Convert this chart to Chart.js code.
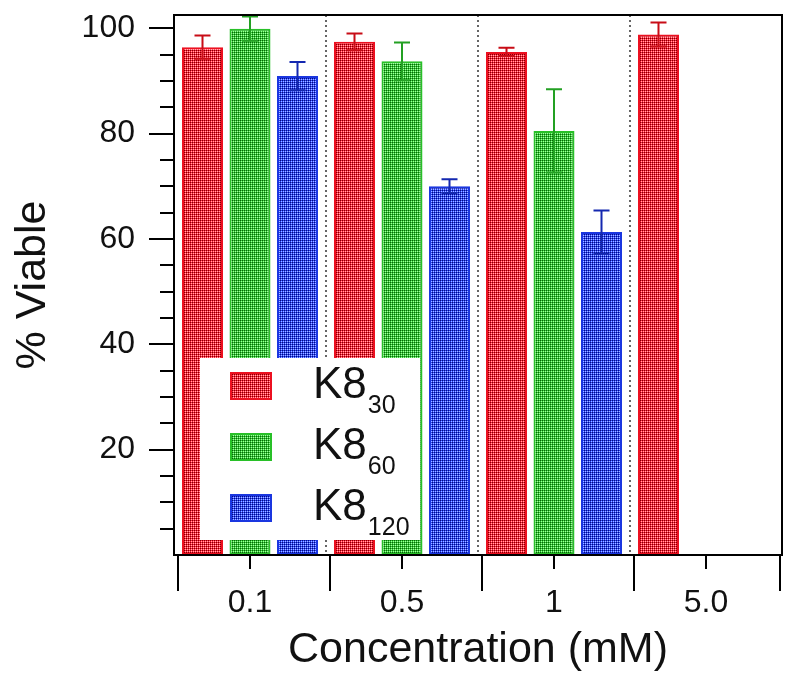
<!DOCTYPE html>
<html>
<head>
<meta charset="utf-8">
<title>% Viable vs concentration</title>
<script src="https://cdn.jsdelivr.net/npm/chart.js@4.4.1/dist/chart.umd.min.js"></script>
<style>
  html, body { margin: 0; padding: 0; background: #fff; }
  #wrap { width: 798px; height: 688px; position: relative; }
</style>
</head>
<body>
<div id="wrap"><canvas id="viabilityChart"></canvas></div>
<script>
// data
const concentrations = ['0.1', '0.5', '1', '5.0'];
const seriesNames = ['K8', 'K8', 'K8'];
const seriesSubs = ['30', '60', '120'];

const k8_30 = [96.4, 97.4, 95.5, 98.8];
const k8_30Err = [2.2, 1.6, 0.8, 2.3];
const k8_60 = [99.9, 93.7, 80.5, null];
const k8_60Err = [2.3, 3.6, 7.9, null];
const k8_120 = [90.9, 70.0, 61.3, null];
const k8_120Err = [2.7, 1.3, 4.1, null];

const yTickValues = [20, 40, 60, 80, 100];
const yMinorStep = 5;

const FONT = '"Liberation Sans", Arial, sans-serif';

const palette = [
    { main: '#ff2030', dark: '#7a0008', light: '#ffb0b8', border: '#ec1020', err: '#c80c16' },
    { main: '#30d030', dark: '#0c5a0c', light: '#a8f0a8', border: '#28c028', err: '#23a023' },
    { main: '#2040ff', dark: '#101070', light: '#b0c0ff', border: '#1a36e0', err: '#1428b0' }
];

const canvas = document.getElementById('viabilityChart');
const mainCtx = canvas.getContext('2d');

// little checkered fill like the original hatching
function makePattern(c) {
    const p = document.createElement('canvas');
    p.width = 2; p.height = 2;
    const g = p.getContext('2d');
    g.fillStyle = c.main; g.fillRect(0, 0, 2, 2);
    g.fillStyle = c.dark; g.fillRect(0, 0, 1, 1);
    g.fillStyle = c.light; g.fillRect(1, 1, 1, 1);
    return mainCtx.createPattern(p, 'repeat');
}
const patterns = palette.map(makePattern);

const seriesValues = [k8_30, k8_60, k8_120];
const seriesErrors = [k8_30Err, k8_60Err, k8_120Err];

const datasets = seriesValues.map((vals, i) => ({
    label: seriesNames[i] + seriesSubs[i],
    data: vals,
    errors: seriesErrors[i],
    errorColor: palette[i].err,
    backgroundColor: patterns[i],
    borderColor: palette[i].border,
    borderWidth: 2,
    borderSkipped: false,
    categoryPercentage: 0.9375,
    barPercentage: 0.863
}));

// dotted separators between concentration groups
const separators = {
    id: 'separators',
    beforeDatasetsDraw(chart) {
        const { ctx, chartArea } = chart;
        const x = chart.scales.x;
        ctx.save();
        ctx.strokeStyle = '#333';
        ctx.lineWidth = 1.5;
        ctx.setLineDash([2, 3]);
        for (let i = 1; i < concentrations.length; i++) {
            const px = (x.getPixelForValue(i - 1) + x.getPixelForValue(i)) / 2;
            ctx.beginPath();
            ctx.moveTo(px, chartArea.top);
            ctx.lineTo(px, chartArea.bottom);
            ctx.stroke();
        }
        ctx.restore();
    }
};

const errorBars = {
    id: 'errorBars',
    afterDatasetsDraw(chart) {
        const ctx = chart.ctx;
        const y = chart.scales.y;
        chart.data.datasets.forEach((ds, i) => {
            const meta = chart.getDatasetMeta(i);
            meta.data.forEach((bar, j) => {
                const v = ds.data[j], e = ds.errors[j];
                if (v == null || e == null) return;
                const top = y.getPixelForValue(v + e);
                const bot = y.getPixelForValue(v - e);
                ctx.save();
                ctx.strokeStyle = ds.errorColor;
                ctx.lineWidth = 2;
                ctx.beginPath();
                ctx.moveTo(bar.x, top); ctx.lineTo(bar.x, bot);
                ctx.moveTo(bar.x - 8, top); ctx.lineTo(bar.x + 8, top);
                ctx.moveTo(bar.x - 8, bot); ctx.lineTo(bar.x + 8, bot);
                ctx.stroke();
                ctx.restore();
            });
        });
    }
};

// legend with subscripts, frame and tick marks
const decorations = {
    id: 'decorations',
    afterDraw(chart) {
        const { ctx, chartArea } = chart;
        const x = chart.scales.x, y = chart.scales.y;

        // legend
        const lx = chartArea.left + 26, ly = chartArea.top + 343;
        ctx.save();
        ctx.fillStyle = '#fff';
        ctx.fillRect(lx, ly, 220, 182);
        chart.data.datasets.forEach((ds, i) => {
            const sy = ly + 14 + i * 61;
            ctx.fillStyle = ds.backgroundColor;
            ctx.fillRect(lx + 30, sy, 42, 28);
            ctx.strokeStyle = ds.borderColor;
            ctx.lineWidth = 2;
            ctx.strokeRect(lx + 31, sy + 1, 40, 26);
            ctx.fillStyle = '#111';
            ctx.textBaseline = 'alphabetic';
            ctx.textAlign = 'left';
            ctx.font = '44px ' + FONT;
            const base = sy + 26;
            ctx.fillText(seriesNames[i], lx + 113, base);
            const w = ctx.measureText(seriesNames[i]).width;
            ctx.font = '25px ' + FONT;
            ctx.fillText(seriesSubs[i], lx + 113 + w + 1, base + 15);
        });
        ctx.restore();

        // frame
        ctx.save();
        ctx.strokeStyle = '#000';
        ctx.lineWidth = 2;
        ctx.strokeRect(chartArea.left, chartArea.top, chartArea.right - chartArea.left, chartArea.bottom - chartArea.top);

        // y ticks
        ctx.beginPath();
        for (let v = yMinorStep; v <= y.max; v += yMinorStep) {
            const py = Math.round(y.getPixelForValue(v));
            const len = yTickValues.includes(v) ? 25 : 14;
            ctx.moveTo(chartArea.left, py);
            ctx.lineTo(chartArea.left - len, py);
        }
        // x ticks: long at group edges, short at centres
        const half = (x.getPixelForValue(1) - x.getPixelForValue(0)) / 2;
        for (let i = 0; i < concentrations.length; i++) {
            const c = x.getPixelForValue(i);
            ctx.moveTo(c - half + 4, chartArea.bottom);
            ctx.lineTo(c - half + 4, chartArea.bottom + 36);
            ctx.moveTo(c, chartArea.bottom);
            ctx.lineTo(c, chartArea.bottom + 14);
        }
        const lastEdge = x.getPixelForValue(concentrations.length - 1) + half - 2;
        ctx.moveTo(lastEdge, chartArea.bottom);
        ctx.lineTo(lastEdge, chartArea.bottom + 36);
        ctx.stroke();
        ctx.restore();
    }
};

new Chart(canvas, {
    type: 'bar',
    data: { labels: concentrations, datasets: datasets },
    options: {
        responsive: true,
        maintainAspectRatio: false,
        animation: false,
        devicePixelRatio: 1,
        layout: { padding: { left: 0, top: 15, right: 16, bottom: 0 } },
        plugins: {
            legend: { display: false },
            tooltip: { enabled: true }
        },
        scales: {
            x: {
                afterFit(s) { s.height = 133; s.paddingLeft = 0; s.paddingRight = 0; },
                ticks: { padding: 29, color: '#111', font: { family: FONT, size: 32 } },
                grid: { display: false, drawTicks: false },
                border: { display: false },
                title: {
                    display: true,
                    text: 'Concentration (mM)',
                    color: '#111',
                    font: { family: FONT, size: 43 },
                    padding: { top: 0, bottom: 12 }
                }
            },
            y: {
                min: 0,
                max: 102.5,
                afterFit(s) { s.width = 174; s.paddingTop = 0; s.paddingBottom = 0; },
                afterBuildTicks(s) { s.ticks = yTickValues.map(v => ({ value: v })); },
                ticks: { autoSkip: false, padding: 39, color: '#111', font: { family: FONT, size: 32 } },
                grid: { display: false, drawTicks: false },
                border: { display: false },
                title: {
                    display: true,
                    text: '% Viable',
                    color: '#111',
                    font: { family: FONT, size: 43 },
                    padding: { top: 7, bottom: 0 }
                }
            }
        }
    },
    plugins: [separators, errorBars, decorations]
});
</script>
</body>
</html>
